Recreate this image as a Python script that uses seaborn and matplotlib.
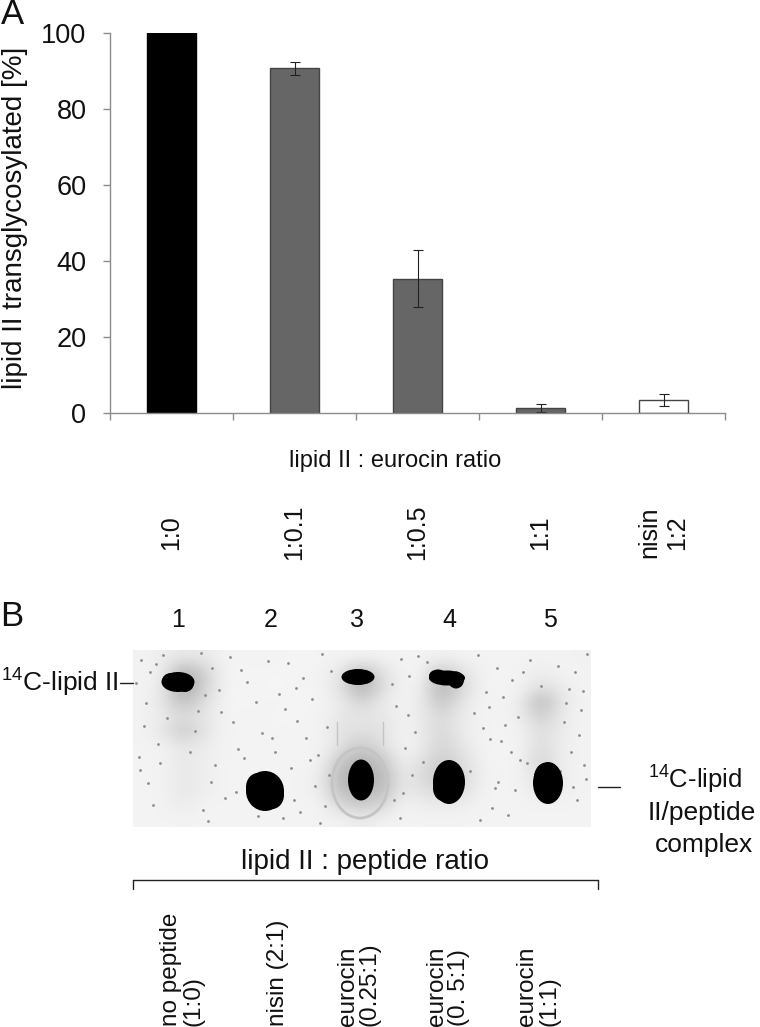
import numpy as np
import pandas as pd
import matplotlib
matplotlib.use('Agg')
import matplotlib.pyplot as plt
from matplotlib.lines import Line2D
from matplotlib.patches import Ellipse
import seaborn as sns

W, H = 760, 1027

# Panel A
ratios = ['1:0', '1:0.1', '1:0.5', '1:1', 'nisin\n1:2']
transglycosylated = [100, 90.7, 35.3, 1.3, 3.4]
errors = [0, 1.7, 7.5, 1.1, 1.5]
bar_colors = ['#000000', '#666666', '#666666', '#666666', '#ffffff']
bar_edges = ['#000000', '#444444', '#444444', '#444444', '#444444']

# Panel B, smear darkness read per gel region (12 rows, 23 columns)
gel_smear = [
    [.05, .07, .09, .09, .05, .05, .05, .05, .04, .05, .05, .05, .05, .05, .05, .06, .05, .05, .05, .05, .05, .05, .06],
    [.05, .07, .32, .20, .05, .04, .05, .04, .05, .05, .10, .28, .12, .05, .05, .23, .12, .05, .05, .05, .08, .05, .05],
    [.05, .08, .36, .20, .05, .05, .04, .04, .05, .05, .12, .34, .14, .05, .06, .32, .16, .05, .05, .05, .12, .08, .05],
    [.05, .10, .26, .14, .05, .04, .05, .05, .04, .05, .08, .18, .08, .05, .08, .24, .10, .05, .05, .07, .30, .10, .05],
    [.05, .08, .14, .10, .05, .05, .05, .04, .05, .05, .10, .10, .10, .05, .08, .16, .08, .05, .05, .07, .20, .08, .05],
    [.05, .10, .22, .12, .05, .05, .05, .05, .05, .05, .12, .12, .12, .05, .08, .16, .08, .05, .05, .05, .14, .08, .05],
    [.05, .05, .10, .08, .05, .05, .05, .05, .05, .05, .12, .22, .12, .05, .07, .18, .10, .05, .05, .05, .14, .07, .05],
    [.05, .05, .10, .07, .05, .05, .05, .05, .05, .05, .24, .30, .24, .05, .12, .20, .14, .05, .05, .05, .18, .07, .05],
    [.05, .05, .09, .07, .05, .05, .05, .05, .05, .08, .30, .30, .30, .08, .14, .22, .16, .06, .05, .05, .14, .07, .05],
    [.05, .05, .10, .07, .05, .05, .05, .05, .05, .08, .28, .26, .28, .08, .12, .16, .14, .05, .05, .05, .10, .07, .05],
    [.05, .05, .08, .05, .05, .05, .05, .05, .05, .05, .16, .22, .16, .05, .07, .08, .07, .05, .05, .05, .05, .05, .05],
    [.05, .05, .05, .05, .05, .05, .05, .05, .05, .05, .05, .08, .05, .05, .05, .05, .05, .05, .05, .05, .05, .05, .05],
]
gel_x0, gel_x1, gel_y0, gel_y1 = 133, 590, 650, 827

# dark spots, the extra entries are the lobes that make them irregular
spot_x = [178, 171, 185, 265, 258, 272, 358, 361, 447, 438, 456, 449, 443, 548, 545]
spot_y = [682, 681, 683, 791, 787, 795, 677, 780, 678, 676, 680, 782, 788, 783, 778]
spot_w = [33, 18, 18, 38, 24, 24, 33, 26, 36, 18, 16, 32, 20, 30, 22]
spot_h = [20, 16, 18, 40, 28, 28, 16, 41, 15, 13, 17, 44, 26, 42, 30]

speck_x = [141, 150, 163, 212, 230, 247, 288, 303, 322, 401, 418, 497, 512, 530, 575, 583, 146, 205, 221, 256,
           297, 312, 408, 489, 505, 566, 579, 158, 195, 238, 272, 318, 405, 490, 520, 571, 140, 215, 250, 291,
           310, 412, 498, 515, 560, 584, 153, 225, 300, 325, 400, 492, 577, 208, 283, 508,
           136, 156, 201, 219, 241, 268, 279, 296, 331, 392, 409, 427, 478, 486, 503, 523, 541, 558, 569, 587,
           144, 167, 198, 233, 262, 285, 306, 327, 396, 415, 474, 483, 501, 518, 564, 581, 139, 160, 190, 211,
           244, 275, 315, 329, 403, 423, 470, 495, 511, 527, 573, 586, 148, 203, 236, 258, 294, 320, 394, 480]
speck_y = [660, 672, 655, 668, 657, 682, 663, 678, 654, 659, 656, 668, 680, 660, 672, 691, 703, 695, 712, 702,
           721, 699, 715, 707, 725, 703, 735, 744, 731, 749, 738, 755, 748, 739, 760, 752, 770, 765, 778, 768,
           760, 775, 782, 790, 771, 765, 805, 798, 812, 806, 818, 808, 800, 821, 818, 815,
           683, 664, 653, 690, 670, 661, 694, 688, 671, 684, 676, 662, 655, 692, 697, 672, 686, 666, 689, 654,
           726, 718, 711, 722, 733, 709, 738, 727, 706, 732, 713, 728, 741, 717, 722, 710, 757, 763, 752, 782,
           758, 752, 786, 775, 793, 762, 771, 788, 752, 763, 787, 779, 783, 810, 792, 816, 800, 823, 800, 820]

lane_numbers = ['1', '2', '3', '4', '5']
lane_x = [178, 271, 357, 449, 550]
peptide_labels = ['no peptide\n(1:0)', 'nisin (2:1)', 'eurocin\n(0.25:1)', 'eurocin\n(0. 5:1)', 'eurocin\n(1:1)']
peptide_x = [182, 278, 359, 448, 538]

sns.set_style('white')
plt.rcParams['font.family'] = ['Liberation Sans', 'DejaVu Sans']
plt.rcParams['mathtext.default'] = 'regular'


def px_axes(x0, y0, x1, y1):
    return fig.add_axes([x0 / W, 1 - y1 / H, (x1 - x0) / W, (y1 - y0) / H])


def label(x, y, s, size=17.5, **kw):
    kw.setdefault('ha', 'left')
    kw.setdefault('va', 'center')
    fig.text(x / W, 1 - y / H, s, fontsize=size, color='#111111', **kw)


def rule(x0, y0, x1, y1, lw=1.0):
    fig.add_artist(Line2D([x0 / W, x1 / W], [1 - y0 / H, 1 - y1 / H], color='#222222', lw=lw))


fig = plt.figure(figsize=(W / 100, H / 100), dpi=100)

# --- A: bars
ax = px_axes(110, 33, 725, 413)
df = pd.DataFrame({'ratio': ratios, 'value': transglycosylated})
sns.barplot(data=df, x='ratio', y='value', hue='ratio', order=ratios, hue_order=ratios,
            palette=bar_colors, width=0.4, legend=False, ax=ax, saturation=1)
for patch, edge in zip(ax.patches, bar_edges):
    patch.set_edgecolor(edge)
    patch.set_linewidth(1.0)
ax.errorbar(range(1, 5), transglycosylated[1:], yerr=errors[1:], fmt='none', ecolor='#222222',
            elinewidth=0.8, capsize=3.5, capthick=0.8)

ax.set_xlim(-0.5, 4.5)
ax.set_ylim(0, 100)
ax.set_xlabel('')
ax.set_ylabel('')
ax.set_yticks([0, 20, 40, 60, 80, 100])
ax.tick_params(axis='y', labelsize=19.5, length=5, width=1, color='#8c8c8c', pad=12, left=True, labelcolor='#111111')
ax.set_xticks(np.arange(-0.5, 5))
ax.set_xticklabels([])
ax.tick_params(axis='x', which='major', length=5, width=1, color='#8c8c8c', bottom=True)
ax.set_xticks(range(5), labels=ratios, minor=True)
ax.tick_params(axis='x', which='minor', length=0, pad=86, labelsize=18, labelrotation=90, labelcolor='#111111')
for t in ax.get_xticklabels(minor=True):
    t.set_va('center')
    t.set_multialignment('center')
sns.despine(ax=ax)
for side in ['left', 'bottom']:
    ax.spines[side].set_color('#8c8c8c')
    ax.spines[side].set_linewidth(1.0)

label(15, 218, 'lipid II transglycosylated [%]', size=20, rotation=90, ha='center')
label(395, 461, 'lipid II : eurocin ratio', size=17, ha='center')
label(1, 15, 'A', size=25)
label(0, 616, 'B', size=25)

# --- B: gel
gel = px_axes(gel_x0, gel_y0, gel_x1, gel_y1)
gel.imshow(np.array(gel_smear), cmap='gray_r', vmin=0, vmax=1, aspect='auto', interpolation='bicubic',
           extent=(gel_x0, gel_x1, gel_y1, gel_y0))
sns.scatterplot(x=speck_x, y=speck_y, s=4, color='#8c8c8c', linewidth=0, ax=gel, legend=False)
gel.add_patch(Ellipse((360, 783), 56, 70, fill=False, ec='#c4c4c4', lw=2))
for sx, sy, sw, sh in zip(spot_x, spot_y, spot_w, spot_h):
    gel.add_patch(Ellipse((sx, sy), sw, sh, color='black', lw=0))
gel.plot([337, 337], [722, 745], color='#c4c4c4', lw=1)
gel.plot([383, 383], [722, 745], color='#c4c4c4', lw=1)
gel.set_xlim(gel_x0, gel_x1)
gel.set_ylim(gel_y1, gel_y0)
gel.axis('off')

for x, n in zip(lane_x, lane_numbers):
    label(x, 620, n, size=18, ha='center')

label(1, 683, '$^{14}$C-lipid II', size=19)
rule(120, 683, 133, 683)
rule(598, 787, 620, 787)
label(648, 780, '$^{14}$C-lipid', size=18.5)
label(648, 813, 'II/peptide', size=19)
label(655, 845, 'complex', size=19)

label(365, 862, 'lipid II : peptide ratio', size=20, ha='center')
rule(133, 880, 598, 880)
rule(133, 880, 133, 889)
rule(598, 880, 598, 889)

for x, s in zip(peptide_x, peptide_labels):
    label(x, 1026, s, rotation=90, ha='center', va='bottom', multialignment='left', linespacing=1.0)

fig.savefig('out.png', dpi=100)
